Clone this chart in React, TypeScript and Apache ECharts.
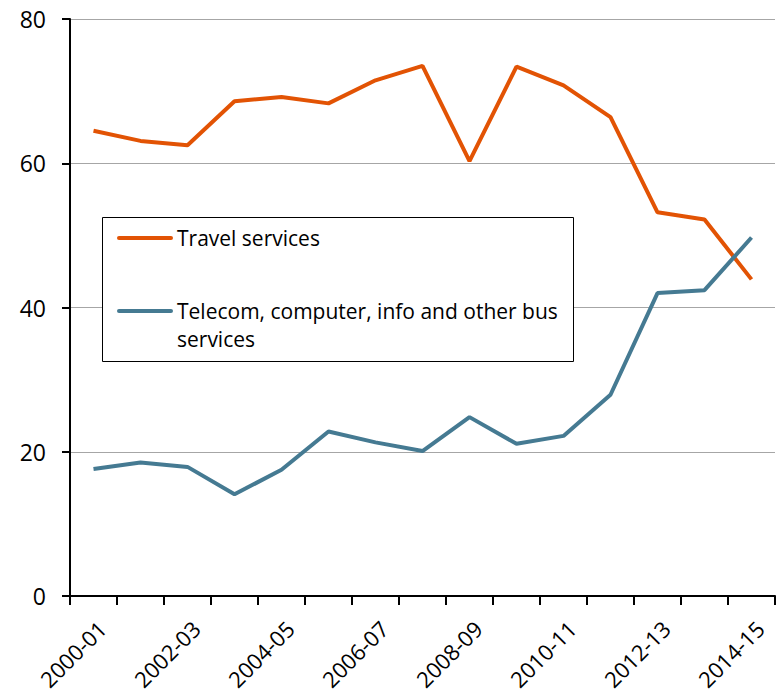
import React, { useEffect, useRef } from "react";
import * as echarts from "echarts";

const categories = [
  "2000-01", "2001-02", "2002-03", "2003-04", "2004-05", "2005-06", "2006-07", "2007-08",
  "2008-09", "2009-10", "2010-11", "2011-12", "2012-13", "2013-14", "2014-15",
];
const travel = [64.5, 63.1, 62.5, 68.6, 69.2, 68.3, 71.5, 73.5, 60.3, 73.4, 70.8, 66.4, 53.2, 52.2, 43.9];
const telecom = [17.6, 18.5, 17.9, 14.1, 17.5, 22.8, 21.3, 20.1, 24.8, 21.1, 22.2, 27.9, 42.0, 42.4, 49.7];
const seriesNames = ["Travel services", "Telecom, computer, info and other bus services"];
const colors = ["#E25304", "#457A92"];
const FONT = "Open Sans";

export default function App() {
  const ref = useRef<HTMLDivElement>(null);
  useEffect(() => {
    if (!ref.current) return;
    const chart = echarts.init(ref.current, undefined, { renderer: "svg" });
    chart.setOption({
      animation: false,
      grid: { left: 70, right: 3, top: 19, bottom: 98, outerBoundsMode: "none", containLabel: false },
      xAxis: {
        type: "category",
        data: categories,
        boundaryGap: true,
        axisLine: { show: true, lineStyle: { color: "#000", width: 2 } },
        axisTick: { show: true, interval: 0, length: 9, lineStyle: { color: "#000", width: 2 } },
        axisLabel: {
          interval: 1,
          rotate: 45,
          margin: 20,
          color: "#000",
          fontFamily: FONT,
          fontSize: 22,
          verticalAlign: "top",
          lineHeight: 24,
        },
        splitLine: { show: false },
      },
      yAxis: {
        type: "value",
        min: 0,
        max: 80,
        interval: 20,
        axisLine: { show: true, lineStyle: { color: "#000", width: 2 } },
        axisTick: { show: true, length: 8, lineStyle: { color: "#000", width: 2 } },
        axisLabel: { color: "#000", fontFamily: FONT, fontSize: 23, margin: 24 },
        splitLine: { show: true, lineStyle: { color: "#A6A6A6", width: 1 } },
      },
      series: [
        {
          name: seriesNames[0],
          type: "line",
          data: travel,
          symbol: "none",
          lineStyle: { color: colors[0], width: 4 },
          itemStyle: { color: colors[0] },
        },
        {
          name: seriesNames[1],
          type: "line",
          data: telecom,
          symbol: "none",
          lineStyle: { color: colors[1], width: 4 },
          itemStyle: { color: colors[1] },
        },
      ],
      graphic: [
        {
          type: "rect",
          shape: { x: 102.5, y: 217.5, width: 471, height: 144 },
          style: { fill: "#fff", stroke: "#000", lineWidth: 1 },
          z: 100,
        },
        {
          type: "line",
          shape: { x1: 119, y1: 238, x2: 171, y2: 238 },
          style: { stroke: colors[0], lineWidth: 4, lineCap: "round" },
          z: 101,
        },
        {
          type: "text",
          x: 177,
          y: 238,
          style: {
            text: seriesNames[0],
            fill: "#000",
            font: `21px "${FONT}"`,
            verticalAlign: "middle",
          },
          z: 101,
        },
        {
          type: "line",
          shape: { x1: 119, y1: 311, x2: 171, y2: 311 },
          style: { stroke: colors[1], lineWidth: 4, lineCap: "round" },
          z: 101,
        },
        {
          type: "text",
          x: 177,
          y: 297,
          style: {
            text: "Telecom, computer, info and other bus\nservices",
            fill: "#000",
            font: `21px "${FONT}"`,
            lineHeight: 28,
            verticalAlign: "top",
          },
          z: 101,
        },
      ],
    });
    return () => chart.dispose();
  }, []);
  return (
    <div
      ref={ref}
      style={{ position: "absolute", left: 0, top: 0, width: 778, height: 694 }}
    />
  );
}
